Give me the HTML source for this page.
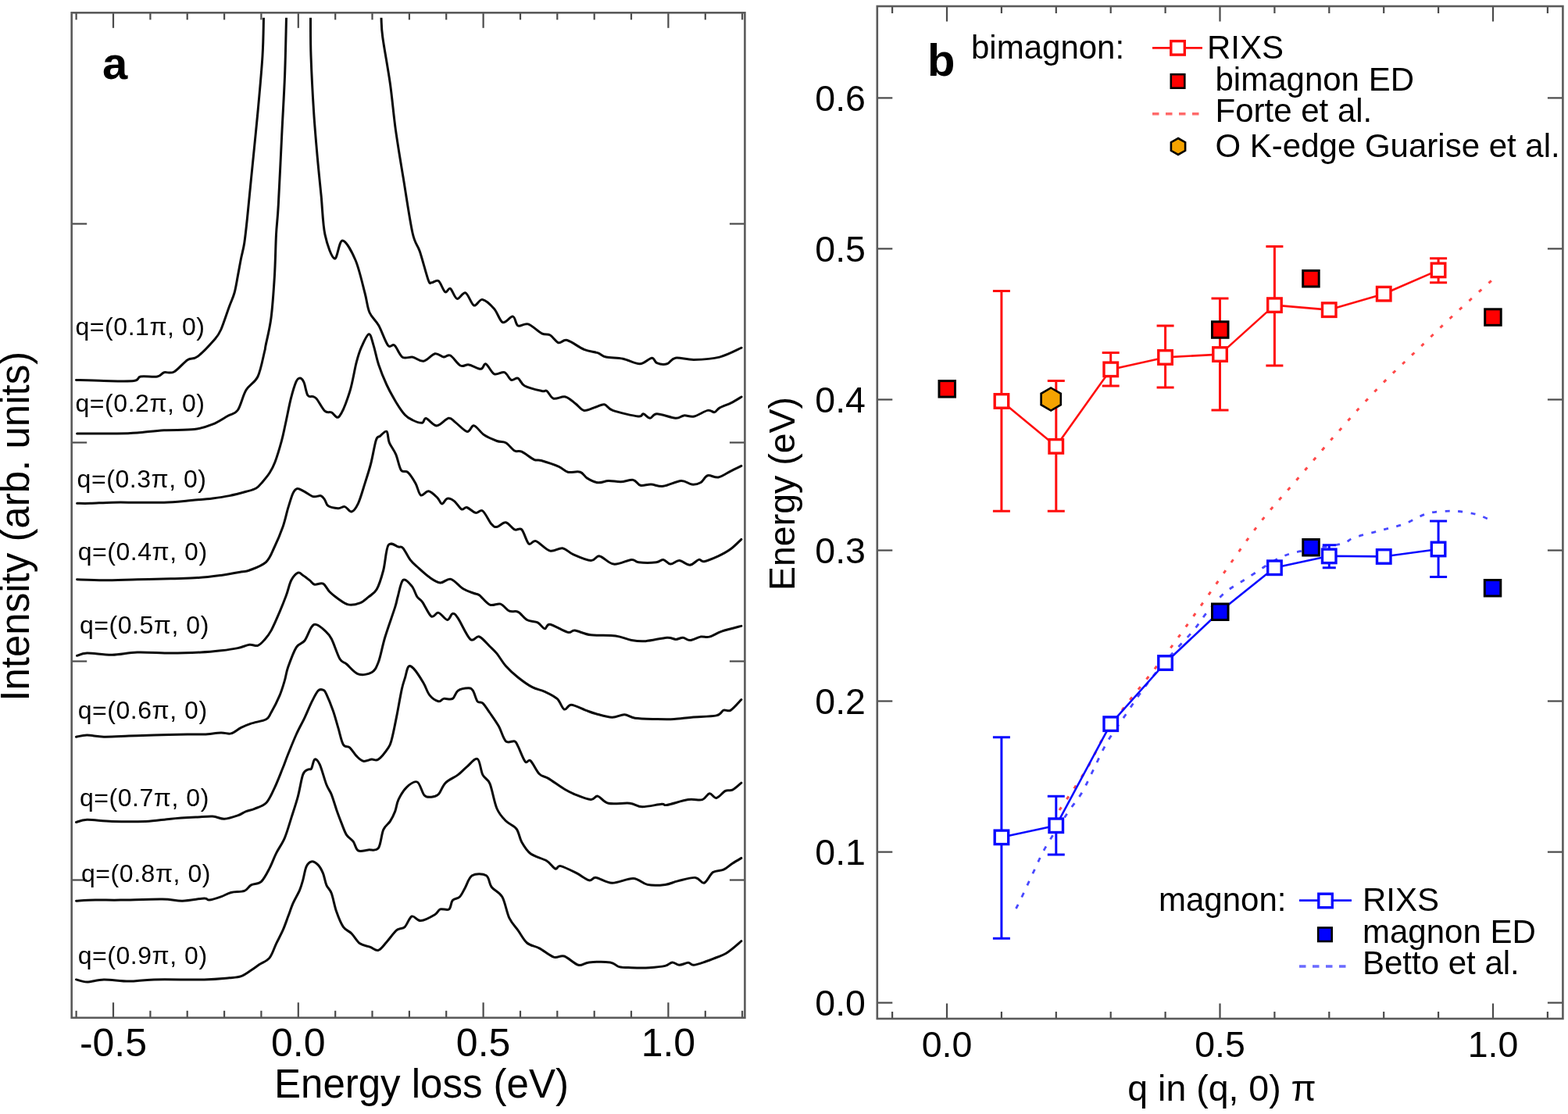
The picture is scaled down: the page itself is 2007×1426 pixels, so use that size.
<!DOCTYPE html>
<html><head><meta charset="utf-8"><title>Figure</title>
<style>html,body{margin:0;padding:0;background:#fff;} svg{display:block;}</style>
</head><body>
<svg width="2007" height="1426" viewBox="0 0 2007 1426" font-family='"Liberation Sans", Arial, Helvetica, sans-serif'>
<rect width="2007" height="1426" fill="#fff"/>
<line x1="97.6" y1="1302.8" x2="97.6" y2="1293.8" stroke="#4a4a4a" stroke-width="2.2"/>
<line x1="97.6" y1="16.3" x2="97.6" y2="25.3" stroke="#4a4a4a" stroke-width="2.2"/>
<line x1="145.0" y1="1302.8" x2="145.0" y2="1283.3" stroke="#4a4a4a" stroke-width="2.2"/>
<line x1="145.0" y1="16.3" x2="145.0" y2="35.8" stroke="#4a4a4a" stroke-width="2.2"/>
<line x1="192.4" y1="1302.8" x2="192.4" y2="1293.8" stroke="#4a4a4a" stroke-width="2.2"/>
<line x1="192.4" y1="16.3" x2="192.4" y2="25.3" stroke="#4a4a4a" stroke-width="2.2"/>
<line x1="239.7" y1="1302.8" x2="239.7" y2="1293.8" stroke="#4a4a4a" stroke-width="2.2"/>
<line x1="239.7" y1="16.3" x2="239.7" y2="25.3" stroke="#4a4a4a" stroke-width="2.2"/>
<line x1="287.1" y1="1302.8" x2="287.1" y2="1293.8" stroke="#4a4a4a" stroke-width="2.2"/>
<line x1="287.1" y1="16.3" x2="287.1" y2="25.3" stroke="#4a4a4a" stroke-width="2.2"/>
<line x1="334.4" y1="1302.8" x2="334.4" y2="1293.8" stroke="#4a4a4a" stroke-width="2.2"/>
<line x1="334.4" y1="16.3" x2="334.4" y2="25.3" stroke="#4a4a4a" stroke-width="2.2"/>
<line x1="381.8" y1="1302.8" x2="381.8" y2="1283.3" stroke="#4a4a4a" stroke-width="2.2"/>
<line x1="381.8" y1="16.3" x2="381.8" y2="35.8" stroke="#4a4a4a" stroke-width="2.2"/>
<line x1="429.2" y1="1302.8" x2="429.2" y2="1293.8" stroke="#4a4a4a" stroke-width="2.2"/>
<line x1="429.2" y1="16.3" x2="429.2" y2="25.3" stroke="#4a4a4a" stroke-width="2.2"/>
<line x1="476.5" y1="1302.8" x2="476.5" y2="1293.8" stroke="#4a4a4a" stroke-width="2.2"/>
<line x1="476.5" y1="16.3" x2="476.5" y2="25.3" stroke="#4a4a4a" stroke-width="2.2"/>
<line x1="523.9" y1="1302.8" x2="523.9" y2="1293.8" stroke="#4a4a4a" stroke-width="2.2"/>
<line x1="523.9" y1="16.3" x2="523.9" y2="25.3" stroke="#4a4a4a" stroke-width="2.2"/>
<line x1="571.2" y1="1302.8" x2="571.2" y2="1293.8" stroke="#4a4a4a" stroke-width="2.2"/>
<line x1="571.2" y1="16.3" x2="571.2" y2="25.3" stroke="#4a4a4a" stroke-width="2.2"/>
<line x1="618.6" y1="1302.8" x2="618.6" y2="1283.3" stroke="#4a4a4a" stroke-width="2.2"/>
<line x1="618.6" y1="16.3" x2="618.6" y2="35.8" stroke="#4a4a4a" stroke-width="2.2"/>
<line x1="666.0" y1="1302.8" x2="666.0" y2="1293.8" stroke="#4a4a4a" stroke-width="2.2"/>
<line x1="666.0" y1="16.3" x2="666.0" y2="25.3" stroke="#4a4a4a" stroke-width="2.2"/>
<line x1="713.3" y1="1302.8" x2="713.3" y2="1293.8" stroke="#4a4a4a" stroke-width="2.2"/>
<line x1="713.3" y1="16.3" x2="713.3" y2="25.3" stroke="#4a4a4a" stroke-width="2.2"/>
<line x1="760.7" y1="1302.8" x2="760.7" y2="1293.8" stroke="#4a4a4a" stroke-width="2.2"/>
<line x1="760.7" y1="16.3" x2="760.7" y2="25.3" stroke="#4a4a4a" stroke-width="2.2"/>
<line x1="808.0" y1="1302.8" x2="808.0" y2="1293.8" stroke="#4a4a4a" stroke-width="2.2"/>
<line x1="808.0" y1="16.3" x2="808.0" y2="25.3" stroke="#4a4a4a" stroke-width="2.2"/>
<line x1="855.4" y1="1302.8" x2="855.4" y2="1283.3" stroke="#4a4a4a" stroke-width="2.2"/>
<line x1="855.4" y1="16.3" x2="855.4" y2="35.8" stroke="#4a4a4a" stroke-width="2.2"/>
<line x1="902.8" y1="1302.8" x2="902.8" y2="1293.8" stroke="#4a4a4a" stroke-width="2.2"/>
<line x1="902.8" y1="16.3" x2="902.8" y2="25.3" stroke="#4a4a4a" stroke-width="2.2"/>
<line x1="950.1" y1="1302.8" x2="950.1" y2="1293.8" stroke="#4a4a4a" stroke-width="2.2"/>
<line x1="950.1" y1="16.3" x2="950.1" y2="25.3" stroke="#4a4a4a" stroke-width="2.2"/>
<line x1="91.7" y1="286.5" x2="111.2" y2="286.5" stroke="#4a4a4a" stroke-width="2.2"/>
<line x1="953.4" y1="286.5" x2="933.9" y2="286.5" stroke="#4a4a4a" stroke-width="2.2"/>
<line x1="91.7" y1="566.5" x2="111.2" y2="566.5" stroke="#4a4a4a" stroke-width="2.2"/>
<line x1="953.4" y1="566.5" x2="933.9" y2="566.5" stroke="#4a4a4a" stroke-width="2.2"/>
<line x1="91.7" y1="846.5" x2="111.2" y2="846.5" stroke="#4a4a4a" stroke-width="2.2"/>
<line x1="953.4" y1="846.5" x2="933.9" y2="846.5" stroke="#4a4a4a" stroke-width="2.2"/>
<line x1="91.7" y1="1126.5" x2="111.2" y2="1126.5" stroke="#4a4a4a" stroke-width="2.2"/>
<line x1="953.4" y1="1126.5" x2="933.9" y2="1126.5" stroke="#4a4a4a" stroke-width="2.2"/>
<rect x="91.7" y="16.3" width="861.7" height="1286.5" fill="none" stroke="#5a5a5a" stroke-width="2.6"/>
<text x="145.0" y="1352.3" font-size="50" text-anchor="middle" font-weight="normal" fill="#000" >-0.5</text>
<text x="381.8" y="1352.3" font-size="50" text-anchor="middle" font-weight="normal" fill="#000" >0.0</text>
<text x="618.6" y="1352.3" font-size="50" text-anchor="middle" font-weight="normal" fill="#000" >0.5</text>
<text x="855.4" y="1352.3" font-size="50" text-anchor="middle" font-weight="normal" fill="#000" >1.0</text>
<text x="539.5" y="1405.0" font-size="51" text-anchor="middle" font-weight="normal" fill="#000" >Energy loss (eV)</text>
<text transform="translate(36.5,673.8) rotate(-90)" font-size="51" text-anchor="middle">Intensity (arb. units)</text>
<text x="131.0" y="101.0" font-size="58" text-anchor="start" font-weight="bold" fill="#000" >a</text>
<defs><clipPath id="ca"><rect x="92" y="22.8" width="860" height="1279"/></clipPath></defs>
<g clip-path="url(#ca)">
<path d="M97.5,486.4 C103.4,486.6 120.6,487.3 132.9,487.5 C145.2,487.7 163.6,488.4 171.4,487.5 C179.2,486.6 175.0,482.9 180.0,482.0 C185.0,481.1 196.4,482.9 201.4,482.0 C206.4,481.1 206.4,477.8 210.0,476.8 C213.6,475.8 217.8,478.7 222.8,476.0 C227.8,473.3 235.0,464.0 240.0,460.7 C245.0,457.4 247.2,460.7 252.9,456.4 C258.6,452.1 269.3,440.7 274.3,435.0 C279.3,429.3 279.6,429.2 282.8,422.0 C286.0,414.8 290.7,399.8 293.6,392.0 C296.5,384.2 298.2,381.4 300.0,375.0 C301.8,368.6 302.9,360.9 304.3,353.6 C305.7,346.3 307.1,338.1 308.5,331.0 C309.9,323.9 311.5,319.4 312.8,310.7 C314.1,302.0 314.8,295.0 316.5,279.0 C318.2,263.0 320.6,237.3 322.9,214.6 C325.1,191.9 327.8,166.8 330.0,143.0 C332.2,119.2 334.8,91.5 336.0,71.5 C337.2,51.5 337.2,34.1 337.5,23.0 C337.8,11.9 337.8,8.0 337.8,5.0" fill="none" stroke="#0a0a0a" stroke-width="3.0" stroke-linejoin="round" stroke-linecap="round"/>
<path d="M487.5,5.0 C487.6,8.0 487.6,15.9 488.0,23.0 C488.4,30.1 487.9,33.7 489.8,47.7 C491.7,61.8 496.6,87.4 499.4,107.3 C502.2,127.2 503.7,147.0 506.5,166.9 C509.3,186.8 512.4,204.7 516.0,226.5 C519.6,248.3 524.5,282.1 528.0,298.0 C531.5,313.9 533.9,311.6 537.3,321.7 C540.7,331.8 545.7,351.8 548.2,358.5 C550.7,365.2 550.3,361.6 552.5,361.8 C554.7,362.0 558.3,357.6 561.2,359.6 C564.1,361.6 567.3,372.1 569.8,373.7 C572.3,375.3 573.9,367.9 576.4,369.4 C578.9,370.8 581.8,381.5 585.0,382.4 C588.2,383.3 592.3,373.4 595.9,374.8 C599.5,376.2 603.1,389.6 606.7,391.0 C610.3,392.4 613.2,382.7 617.5,383.4 C621.8,384.1 628.4,390.5 632.7,395.4 C637.0,400.3 639.5,411.1 643.5,412.7 C647.5,414.3 653.2,404.4 656.5,405.1 C659.8,405.8 659.8,415.4 663.0,417.0 C666.2,418.6 670.9,413.3 676.0,414.9 C681.1,416.5 688.7,424.4 693.4,426.8 C698.1,429.2 700.6,427.0 704.2,429.0 C707.8,431.0 711.4,437.6 715.0,438.7 C718.6,439.8 720.5,434.1 725.9,435.5 C731.3,436.9 741.1,444.7 747.6,447.4 C754.1,450.1 760.2,450.1 764.9,451.7 C769.6,453.3 770.3,455.7 775.7,457.0 C781.1,458.3 790.2,457.8 797.4,459.3 C804.6,460.8 812.9,466.0 819.0,465.8 C825.1,465.6 830.7,458.4 834.3,458.2 C837.9,458.0 837.5,463.4 840.8,464.7 C844.0,466.0 849.8,466.9 853.8,465.8 C857.8,464.7 858.8,459.1 864.6,458.2 C870.4,457.3 879.0,460.6 888.4,460.4 C897.8,460.2 910.9,459.6 921.0,457.1 C931.1,454.6 944.4,447.2 949.1,445.2" fill="none" stroke="#0a0a0a" stroke-width="3.0" stroke-linejoin="round" stroke-linecap="round"/>
<path d="M98.6,555.0 C107.2,555.0 137.2,555.2 150.0,555.0 C162.8,554.8 165.7,554.7 175.7,554.0 C185.7,553.3 197.8,551.4 210.0,550.7 C222.2,550.0 238.3,550.9 248.6,549.6 C258.9,548.4 264.9,546.1 272.0,543.2 C279.1,540.4 286.0,535.5 291.4,532.5 C296.8,529.5 300.4,530.5 304.3,525.0 C308.2,519.5 310.7,506.5 315.0,499.3 C319.3,492.1 326.1,490.2 330.0,482.0 C333.9,473.8 336.9,456.7 338.6,450.0 C340.3,443.3 338.7,449.2 340.1,442.0 C341.5,434.8 345.1,421.7 347.0,407.0 C348.9,392.3 350.3,371.4 351.4,353.6 C352.5,335.8 352.7,315.2 353.5,300.0 C354.3,284.8 355.1,284.5 356.3,262.3 C357.6,240.1 359.6,194.8 361.0,167.0 C362.4,139.2 363.7,119.4 364.6,95.4 C365.5,71.4 366.1,38.1 366.5,23.0 C366.9,7.9 366.9,8.0 367.0,5.0" fill="none" stroke="#0a0a0a" stroke-width="3.0" stroke-linejoin="round" stroke-linecap="round"/>
<path d="M397.4,5.0 C397.4,8.0 397.4,11.9 397.5,23.0 C397.6,34.1 397.3,51.5 398.0,71.5 C398.7,91.5 400.2,121.1 401.6,143.0 C403.0,164.9 404.8,184.8 406.4,202.7 C408.0,220.6 409.5,234.1 411.1,250.4 C412.7,266.7 413.1,287.0 416.0,300.4 C418.9,313.8 424.5,329.7 428.2,331.0 C431.9,332.3 433.9,307.7 438.4,308.0 C442.9,308.3 450.2,321.8 455.0,333.0 C459.8,344.2 464.0,363.8 467.0,375.0 C470.0,386.2 470.0,393.0 473.0,400.0 C476.0,407.0 480.9,409.8 484.8,416.8 C488.7,423.8 493.2,437.9 496.6,442.1 C500.0,446.3 501.9,439.6 505.0,442.1 C508.1,444.6 511.2,454.7 515.1,457.2 C519.0,459.7 524.1,456.3 528.6,457.2 C533.1,458.1 537.3,463.0 542.0,462.3 C546.7,461.6 552.5,453.7 556.8,452.8 C561.1,451.9 564.4,456.7 567.7,457.1 C571.0,457.5 572.8,453.2 576.4,455.0 C580.0,456.8 585.4,466.0 589.4,468.0 C593.4,470.0 595.9,466.2 600.2,466.9 C604.5,467.6 611.8,472.5 615.4,472.3 C619.0,472.1 619.0,464.7 621.9,465.8 C624.8,466.9 628.7,477.0 632.7,478.8 C636.7,480.6 642.1,475.3 645.7,476.6 C649.3,477.9 651.5,485.1 654.4,486.4 C657.3,487.7 660.1,482.9 663.0,484.2 C665.9,485.5 666.6,491.3 671.7,494.0 C676.8,496.7 688.7,499.4 693.4,500.5 C698.1,501.6 697.4,498.9 699.9,500.5 C702.4,502.1 704.6,508.9 708.6,510.2 C712.6,511.4 719.0,506.9 723.7,508.0 C728.4,509.1 732.7,513.8 736.7,516.7 C740.7,519.6 743.3,524.7 747.6,525.4 C751.9,526.1 758.4,522.3 762.7,521.0 C767.0,519.7 770.0,517.1 773.6,517.8 C777.2,518.5 777.2,522.9 784.4,525.4 C791.6,527.9 810.4,532.3 816.9,533.0 C823.4,533.7 820.9,529.3 823.4,529.7 C825.9,530.1 829.2,535.2 832.1,535.2 C835.0,535.2 835.4,529.7 840.8,529.7 C846.2,529.7 858.8,534.8 864.6,535.2 C870.4,535.6 871.4,532.3 875.4,531.9 C879.4,531.5 883.3,534.1 888.4,533.0 C893.5,531.9 901.4,526.3 905.8,525.4 C910.1,524.5 912.0,528.1 914.5,527.6 C917.0,527.1 917.4,524.1 921.0,522.1 C924.6,520.1 931.4,518.0 936.1,515.6 C940.8,513.2 946.9,509.3 949.1,508.0" fill="none" stroke="#0a0a0a" stroke-width="3.0" stroke-linejoin="round" stroke-linecap="round"/>
<path d="M98.6,644.3 C101.4,644.3 108.2,644.5 115.7,644.3 C123.2,644.1 133.6,643.4 143.6,643.2 C153.6,643.0 164.6,643.2 175.7,643.2 C186.8,643.2 199.3,643.6 210.0,643.2 C220.7,642.8 229.7,641.9 240.0,641.0 C250.3,640.1 263.2,639.0 272.1,637.9 C281.0,636.8 286.5,636.0 293.6,634.6 C300.8,633.2 309.3,630.9 315.0,629.3 C320.7,627.7 324.2,627.1 327.8,625.0 C331.4,622.9 333.5,619.7 336.4,616.4 C339.3,613.1 342.5,609.4 345.1,605.3 C347.7,601.2 349.4,598.5 351.9,591.8 C354.4,585.1 358.1,573.0 360.3,564.9 C362.5,556.8 363.3,552.0 365.3,543.0 C367.3,534.0 369.9,520.1 372.1,511.1 C374.4,502.1 376.9,493.7 378.8,489.2 C380.8,484.7 382.1,484.1 383.8,484.1 C385.5,484.1 387.2,485.6 388.9,489.2 C390.6,492.8 391.9,502.9 393.9,506.0 C395.9,509.1 398.7,506.8 400.7,507.7 C402.7,508.6 403.2,508.0 405.7,511.1 C408.2,514.2 412.7,523.4 415.8,526.2 C418.9,529.0 421.1,526.8 424.2,527.9 C427.3,529.0 430.4,537.4 434.3,532.9 C438.2,528.4 444.2,512.5 447.8,501.0 C451.4,489.5 453.7,473.4 456.2,463.9 C458.7,454.3 460.2,449.7 462.9,443.7 C465.6,437.7 469.7,428.1 472.2,427.8 C474.7,427.5 476.0,435.5 478.1,442.1 C480.2,448.7 482.0,458.9 484.8,467.3 C487.6,475.7 491.2,484.6 494.9,492.5 C498.5,500.4 502.8,507.9 506.7,514.4 C510.6,520.9 514.9,527.3 518.5,531.2 C522.1,535.1 525.0,536.3 528.6,538.0 C532.2,539.7 537.5,541.7 540.3,541.3 C543.1,540.9 542.3,534.9 545.4,535.5 C548.5,536.1 554.2,544.9 559.0,544.9 C563.8,544.9 570.2,535.9 574.2,535.2 C578.2,534.5 578.9,537.7 582.9,540.6 C586.9,543.5 594.0,551.8 598.0,552.5 C602.0,553.2 603.1,544.2 606.7,544.9 C610.3,545.6 614.8,553.5 619.7,556.8 C624.6,560.1 631.4,562.8 636.0,564.5 C640.6,566.2 643.6,564.7 647.4,566.8 C651.2,568.9 655.3,575.1 658.7,577.0 C662.1,578.9 663.6,576.2 667.8,578.1 C671.9,580.0 679.5,586.4 683.6,588.3 C687.8,590.2 687.4,588.0 692.7,589.5 C698.0,591.0 709.7,594.9 715.4,597.4 C721.1,599.9 722.2,603.1 726.7,604.2 C731.2,605.3 738.5,602.9 742.6,604.2 C746.8,605.5 747.8,609.8 751.6,612.1 C755.4,614.4 760.7,617.2 765.2,617.8 C769.7,618.4 773.9,615.7 778.8,615.5 C783.7,615.3 789.4,616.9 794.7,616.7 C800.0,616.5 806.4,613.6 810.6,614.4 C814.8,615.1 815.9,620.2 819.7,621.2 C823.5,622.2 828.4,619.9 833.3,620.1 C838.2,620.3 842.7,623.1 849.1,622.3 C855.5,621.5 865.8,615.9 871.8,615.5 C877.8,615.1 881.2,619.7 885.4,620.1 C889.5,620.5 893.3,619.7 896.7,617.8 C900.1,615.9 902.0,609.8 905.8,608.7 C909.6,607.6 914.5,611.9 919.4,611.0 C924.3,610.1 930.4,605.6 935.3,603.1 C940.2,600.6 946.6,597.4 948.9,596.3" fill="none" stroke="#0a0a0a" stroke-width="3.0" stroke-linejoin="round" stroke-linecap="round"/>
<path d="M98.6,741.8 C104.3,742.0 120.1,742.8 132.9,742.8 C145.8,742.8 161.4,742.1 175.7,741.8 C190.0,741.4 205.7,741.1 218.6,740.7 C231.5,740.3 242.2,740.3 252.9,739.6 C263.6,738.9 273.5,737.6 282.8,736.4 C292.1,735.1 302.5,733.2 308.6,732.1 C314.7,731.0 314.0,732.1 319.3,730.0 C324.6,727.9 335.4,724.3 340.7,719.3 C346.0,714.3 347.8,707.5 351.4,700.0 C355.0,692.5 359.2,682.5 362.1,674.3 C365.0,666.1 366.5,657.9 368.6,650.7 C370.8,643.6 373.0,635.6 375.0,631.4 C377.0,627.2 378.2,625.9 380.5,625.5 C382.8,625.1 385.5,627.1 388.9,628.8 C392.3,630.5 397.0,634.6 400.7,635.6 C404.4,636.6 408.3,634.0 410.8,634.7 C413.3,635.4 414.3,637.9 415.8,640.0 C417.3,642.1 417.2,645.7 420.0,647.5 C422.8,649.3 429.2,650.5 432.8,650.7 C436.4,650.9 438.5,647.9 441.4,648.6 C444.3,649.3 447.1,655.7 450.0,655.0 C452.9,654.3 455.6,650.4 458.5,644.3 C461.4,638.2 464.4,627.1 467.1,618.6 C469.8,610.1 472.3,602.7 474.7,593.5 C477.1,584.3 479.4,569.1 481.4,563.2 C483.4,557.3 484.2,560.0 486.5,558.2 C488.8,556.4 492.9,550.9 494.9,552.3 C496.9,553.7 496.3,561.7 498.3,566.6 C500.3,571.5 504.2,575.8 506.7,581.7 C509.2,587.6 510.9,598.1 513.4,601.9 C515.9,605.7 518.7,601.6 521.8,604.4 C524.9,607.2 529.1,613.8 531.9,618.7 C534.7,623.6 535.8,632.2 538.6,633.9 C541.4,635.6 545.1,628.2 548.7,628.8 C552.3,629.4 557.2,634.6 560.0,637.3 C562.8,640.0 563.6,644.9 565.7,645.0 C567.8,645.1 569.9,638.8 572.5,638.2 C575.1,637.6 578.6,639.3 581.6,641.6 C584.6,643.9 588.1,650.5 590.7,651.8 C593.4,653.1 594.5,648.7 597.5,649.5 C600.5,650.3 605.4,655.6 608.8,656.4 C612.2,657.2 614.5,651.6 617.9,654.1 C621.3,656.6 626.2,667.7 629.2,671.1 C632.2,674.5 633.0,674.9 636.0,674.5 C639.0,674.1 643.6,668.2 647.4,668.8 C651.2,669.4 655.3,676.4 658.7,677.9 C662.1,679.4 664.8,674.9 667.8,677.9 C670.8,680.9 673.8,693.5 676.8,696.0 C679.8,698.5 681.4,691.1 685.9,692.6 C690.4,694.1 698.3,703.6 704.0,705.1 C709.7,706.6 715.0,701.0 719.9,701.7 C724.8,702.5 727.5,707.0 733.5,709.6 C739.5,712.2 750.5,717.2 756.2,717.6 C761.9,718.0 762.6,711.1 767.5,711.9 C772.4,712.6 778.8,721.4 785.6,722.1 C792.4,722.9 803.0,716.8 808.3,716.4 C813.6,716.0 812.1,719.2 817.4,719.8 C822.7,720.4 834.7,720.4 840.0,719.8 C845.3,719.2 846.1,716.0 849.1,716.4 C852.1,716.8 854.8,721.9 858.2,722.1 C861.6,722.3 865.4,717.4 869.5,717.6 C873.6,717.8 878.9,723.4 883.1,723.2 C887.3,723.0 891.5,717.1 894.5,716.4 C897.5,715.6 897.1,719.5 901.3,718.7 C905.4,718.0 913.7,714.5 919.4,711.9 C925.1,709.2 930.4,706.4 935.3,702.8 C940.2,699.2 946.6,692.5 948.9,690.4" fill="none" stroke="#0a0a0a" stroke-width="3.0" stroke-linejoin="round" stroke-linecap="round"/>
<path d="M98.6,839.3 C100.7,838.8 103.9,836.2 111.4,836.0 C118.9,835.8 132.9,838.4 143.6,838.2 C154.3,838.0 163.2,835.4 175.7,835.0 C188.2,834.6 205.0,836.0 218.6,836.0 C232.2,836.0 246.4,835.5 257.1,835.0 C267.8,834.5 274.9,833.7 282.8,832.8 C290.7,831.9 298.2,830.9 304.3,829.6 C310.4,828.4 315.0,825.8 319.3,825.3 C323.6,824.8 326.8,827.5 330.0,826.4 C333.2,825.3 335.8,822.1 338.6,818.9 C341.5,815.7 343.9,813.0 347.1,807.1 C350.3,801.2 354.6,791.1 357.8,783.6 C361.0,776.1 363.9,768.9 366.4,762.1 C368.9,755.3 370.3,747.6 372.8,742.8 C375.3,738.0 378.9,734.3 381.4,733.2 C383.9,732.1 385.3,734.8 387.8,736.4 C390.3,738.0 393.9,740.8 396.4,742.8 C398.9,744.8 399.9,747.5 402.8,748.2 C405.7,748.9 410.3,745.5 413.5,747.1 C416.7,748.7 418.9,754.6 422.1,757.8 C425.3,761.0 428.9,763.7 432.8,766.4 C436.7,769.1 441.1,773.0 445.7,773.9 C450.3,774.8 456.4,773.4 460.7,771.8 C465.0,770.2 467.8,767.2 471.4,764.3 C475.0,761.4 478.9,760.3 482.1,754.6 C485.3,748.9 488.2,739.5 490.7,730.0 C493.2,720.5 493.9,702.8 497.1,697.8 C500.3,692.8 506.9,699.4 510.0,700.0 C513.1,700.6 513.4,699.0 515.9,701.7 C518.4,704.4 521.9,712.4 524.9,716.4 C527.9,720.4 529.8,721.7 534.0,725.5 C538.2,729.3 545.0,735.7 549.9,739.1 C554.8,742.5 559.0,745.5 563.5,745.9 C568.0,746.3 572.2,740.1 577.1,741.4 C582.0,742.7 588.1,750.8 593.0,753.8 C597.9,756.8 603.2,758.2 606.6,759.5 C610.0,760.8 610.0,759.3 613.4,761.8 C616.8,764.2 622.5,772.3 627.0,774.2 C631.5,776.1 636.5,771.8 640.6,773.1 C644.8,774.4 648.1,780.5 651.9,782.2 C655.7,783.9 659.4,781.4 663.2,783.3 C667.0,785.2 670.4,791.2 674.6,793.5 C678.8,795.8 684.4,795.0 688.2,796.9 C692.0,798.8 694.6,804.4 697.2,804.8 C699.8,805.2 699.1,798.4 704.0,799.2 C708.9,800.0 721.4,808.1 726.7,809.4 C732.0,810.7 730.9,806.5 735.8,807.1 C740.7,807.7 747.5,811.7 756.2,812.8 C764.9,813.9 779.2,812.8 787.9,813.9 C796.6,815.0 801.9,818.5 808.3,819.6 C814.7,820.7 818.9,821.3 826.5,820.7 C834.1,820.1 847.3,816.6 853.7,816.2 C860.1,815.8 861.6,818.4 865.0,818.4 C868.4,818.4 871.1,816.0 874.1,816.2 C877.1,816.4 879.3,819.8 883.1,819.6 C886.9,819.4 892.5,815.9 896.7,815.1 C900.9,814.4 903.6,816.2 908.1,815.1 C912.6,814.0 917.1,810.5 923.9,808.2 C930.7,805.9 944.7,802.5 948.9,801.4" fill="none" stroke="#0a0a0a" stroke-width="3.0" stroke-linejoin="round" stroke-linecap="round"/>
<path d="M97.5,943.2 C99.8,942.9 105.5,941.1 111.4,941.1 C117.3,941.1 124.0,943.0 132.9,943.2 C141.8,943.4 154.3,942.5 165.0,942.1 C175.7,941.8 184.6,941.5 197.1,941.1 C209.6,940.8 229.3,940.2 240.0,940.0 C250.7,939.8 254.3,940.4 261.4,940.0 C268.5,939.6 277.1,938.1 282.8,937.9 C288.5,937.7 291.4,940.0 295.7,938.9 C300.0,937.8 304.3,933.5 308.6,931.4 C312.9,929.3 316.0,927.9 321.4,926.1 C326.8,924.3 336.4,923.0 340.7,920.7 C345.0,918.4 344.2,917.1 347.1,912.1 C350.0,907.1 354.9,897.5 357.8,890.7 C360.7,883.9 362.5,877.5 364.3,871.4 C366.1,865.3 366.1,861.4 368.6,854.3 C371.1,847.2 375.7,834.3 379.3,828.6 C382.9,822.9 386.8,824.3 390.0,820.0 C393.2,815.7 396.1,806.2 398.6,802.8 C401.1,799.4 402.1,798.9 405.0,799.6 C407.9,800.3 412.5,804.1 415.7,807.1 C418.9,810.1 421.1,811.7 424.3,817.8 C427.5,823.9 431.8,838.2 435.0,843.6 C438.2,849.0 439.6,846.8 443.5,850.0 C447.4,853.2 453.1,861.0 458.5,862.8 C463.9,864.6 471.4,863.2 475.7,860.7 C480.0,858.2 481.4,855.3 484.3,847.8 C487.2,840.3 489.2,827.5 492.8,815.7 C496.4,803.9 503.0,785.7 505.7,777.1 C508.4,768.5 507.4,769.8 509.1,764.0 C510.8,758.2 512.9,744.8 515.9,742.5 C518.9,740.2 524.2,746.8 527.2,750.4 C530.2,754.0 531.7,760.6 534.0,764.0 C536.3,767.4 537.8,766.6 540.8,770.8 C543.8,775.0 548.7,786.7 552.1,789.0 C555.5,791.3 557.8,783.6 561.2,784.4 C564.6,785.1 569.5,793.3 572.5,793.5 C575.5,793.7 577.0,786.0 579.3,785.6 C581.6,785.2 582.3,785.7 586.1,791.2 C589.9,796.7 597.5,814.4 602.0,818.4 C606.5,822.4 609.2,813.5 613.4,815.0 C617.6,816.5 623.2,823.9 627.0,827.5 C630.8,831.1 632.6,832.4 636.0,836.6 C639.4,840.8 642.9,847.4 647.4,852.5 C651.9,857.6 657.5,862.7 663.2,867.2 C668.9,871.7 675.7,876.7 681.4,879.7 C687.1,882.7 691.9,882.8 697.2,885.3 C702.5,887.8 708.9,890.6 713.1,894.4 C717.3,898.2 719.2,906.7 722.2,908.0 C725.2,909.3 726.7,902.1 731.2,902.3 C735.7,902.5 744.1,907.2 749.4,909.1 C754.7,911.0 757.3,912.2 763.0,913.7 C768.7,915.2 777.4,918.0 783.4,918.2 C789.4,918.4 794.4,914.6 799.3,914.8 C804.2,915.0 806.0,918.3 812.8,919.3 C819.6,920.2 831.7,920.3 840.0,920.5 C848.3,920.7 855.1,920.9 862.7,920.5 C870.3,920.1 876.3,919.0 885.4,918.2 C894.5,917.4 910.3,917.4 917.1,915.9 C923.9,914.4 923.2,910.2 926.2,909.1 C929.2,908.0 931.5,911.4 935.3,909.1 C939.1,906.8 946.6,897.8 948.9,895.5" fill="none" stroke="#0a0a0a" stroke-width="3.0" stroke-linejoin="round" stroke-linecap="round"/>
<path d="M97.5,1052.5 C99.8,1052.0 103.7,1049.5 111.4,1049.3 C119.1,1049.1 131.1,1051.1 143.6,1051.4 C156.1,1051.8 173.9,1051.9 186.4,1051.4 C198.9,1050.9 207.9,1049.1 218.6,1048.2 C229.3,1047.3 241.8,1046.6 250.7,1046.1 C259.6,1045.6 266.0,1044.7 272.1,1045.0 C278.2,1045.3 281.7,1048.4 287.1,1048.2 C292.5,1048.0 299.7,1045.5 304.3,1043.9 C308.9,1042.3 311.4,1040.0 315.0,1038.6 C318.6,1037.2 321.4,1037.1 325.7,1035.3 C330.0,1033.5 336.4,1032.2 340.7,1027.8 C345.0,1023.3 347.8,1016.1 351.4,1008.6 C355.0,1001.1 359.2,989.9 362.1,982.8 C365.0,975.6 365.7,972.8 368.6,965.7 C371.5,958.6 375.7,947.9 379.3,940.0 C382.9,932.1 386.8,925.4 390.0,918.6 C393.2,911.8 395.8,905.0 398.6,899.3 C401.5,893.6 404.6,887.0 407.1,884.3 C409.6,881.6 411.7,882.5 413.5,883.2 C415.3,883.9 415.7,884.1 417.8,888.6 C419.9,893.1 423.9,902.9 426.4,910.0 C428.9,917.1 430.6,924.2 432.8,931.4 C435.0,938.5 436.8,948.6 439.3,952.9 C441.8,957.2 445.0,954.6 447.8,957.1 C450.6,959.6 453.5,965.0 456.4,967.9 C459.3,970.8 461.8,973.6 465.0,974.3 C468.2,975.0 472.5,972.5 475.7,972.1 C478.9,971.7 480.7,974.6 484.3,972.1 C487.9,969.6 494.2,961.4 497.1,957.1 C500.0,952.8 499.6,953.2 501.4,946.4 C503.2,939.6 505.7,927.1 507.8,916.4 C509.9,905.7 512.5,890.3 514.3,882.1 C516.1,873.9 517.2,871.9 518.6,867.1 C520.0,862.4 520.9,855.5 522.7,853.6 C524.5,851.7 526.3,852.5 529.5,855.9 C532.7,859.3 538.5,868.3 541.9,874.0 C545.3,879.7 546.7,885.9 549.9,889.9 C553.1,893.9 558.2,897.0 561.2,897.8 C564.2,898.5 565.0,895.0 568.0,894.4 C571.0,893.8 576.3,896.1 579.3,894.4 C582.3,892.7 582.7,886.5 586.1,884.2 C589.5,881.9 596.6,880.8 599.8,880.8 C603.0,880.8 603.5,881.4 605.4,884.2 C607.3,887.0 609.0,895.1 611.1,897.8 C613.2,900.4 615.2,897.6 617.9,900.1 C620.5,902.6 623.6,907.6 627.0,912.5 C630.4,917.4 634.9,923.5 638.3,929.5 C641.7,935.5 644.0,945.6 647.4,948.8 C650.8,952.0 656.1,947.7 658.7,948.8 C661.3,949.9 660.9,951.2 663.2,955.6 C665.5,960.0 669.6,971.9 672.3,974.9 C674.9,977.9 676.1,971.1 679.1,973.8 C682.1,976.4 686.6,987.0 690.4,990.8 C694.2,994.6 696.5,993.2 701.8,996.4 C707.1,999.6 716.5,1006.6 722.2,1010.0 C727.9,1013.4 730.1,1014.5 735.8,1016.8 C741.5,1019.1 751.3,1023.2 756.2,1023.6 C761.1,1024.0 761.4,1018.3 765.2,1019.1 C769.0,1019.9 772.0,1026.7 778.8,1028.2 C785.6,1029.7 798.8,1027.5 806.0,1028.2 C813.2,1029.0 815.1,1032.5 821.9,1032.7 C828.7,1032.9 841.6,1029.7 846.9,1029.3 C852.2,1028.9 848.0,1031.4 853.7,1030.4 C859.4,1029.5 873.4,1024.7 880.9,1023.6 C888.4,1022.5 894.5,1024.9 899.0,1023.6 C903.5,1022.3 905.1,1016.1 908.1,1015.7 C911.1,1015.3 913.7,1022.0 917.1,1021.4 C920.5,1020.8 925.1,1014.0 928.5,1012.3 C931.9,1010.6 934.1,1012.9 937.5,1011.2 C940.9,1009.5 947.0,1003.6 948.9,1002.1" fill="none" stroke="#0a0a0a" stroke-width="3.0" stroke-linejoin="round" stroke-linecap="round"/>
<path d="M97.5,1153.2 C101.6,1153.0 112.6,1152.3 122.1,1152.1 C131.6,1151.9 140.0,1152.3 154.3,1152.1 C168.6,1151.9 194.6,1150.9 207.8,1151.1 C221.0,1151.3 224.7,1153.4 233.6,1153.2 C242.5,1153.0 255.7,1150.2 261.4,1150.0 C267.1,1149.8 264.2,1152.4 267.8,1152.1 C271.4,1151.8 278.2,1149.5 282.8,1147.9 C287.4,1146.3 290.7,1143.8 295.7,1142.5 C300.7,1141.2 308.5,1142.0 312.8,1140.4 C317.1,1138.8 317.8,1134.9 321.4,1132.9 C325.0,1130.9 330.4,1132.2 334.3,1128.6 C338.2,1125.0 341.8,1117.5 345.0,1111.4 C348.2,1105.3 350.4,1098.5 353.6,1092.1 C356.8,1085.7 361.1,1080.3 364.3,1072.8 C367.5,1065.3 370.0,1056.0 372.8,1047.1 C375.6,1038.2 378.9,1028.6 381.4,1019.3 C383.9,1010.0 385.6,997.1 387.8,991.4 C390.0,985.7 392.5,986.2 394.3,985.0 C396.1,983.8 397.2,986.0 398.6,983.9 C400.0,981.8 401.0,973.0 402.8,972.1 C404.6,971.2 406.8,973.2 409.3,978.6 C411.8,984.0 415.3,997.9 417.8,1004.3 C420.3,1010.7 422.2,1011.8 424.3,1017.1 C426.4,1022.5 428.6,1030.3 430.7,1036.4 C432.8,1042.5 435.0,1048.2 437.1,1053.6 C439.2,1059.0 441.0,1064.7 443.5,1068.6 C446.0,1072.5 449.6,1073.7 452.1,1077.1 C454.6,1080.5 455.3,1087.1 458.5,1088.9 C461.7,1090.7 467.1,1088.4 471.4,1087.9 C475.7,1087.4 481.1,1090.0 484.3,1085.7 C487.5,1081.4 488.2,1067.8 490.7,1062.1 C493.2,1056.4 496.8,1055.3 499.3,1051.4 C501.8,1047.5 503.9,1043.2 505.7,1038.6 C507.5,1034.0 507.6,1028.7 510.0,1023.6 C512.5,1018.5 516.4,1011.6 520.4,1007.8 C524.4,1004.0 530.2,999.3 534.0,1001.0 C537.8,1002.7 540.1,1014.8 543.1,1018.0 C546.1,1021.2 549.1,1020.4 552.1,1020.2 C555.1,1020.0 558.2,1019.8 561.2,1016.8 C564.2,1013.8 566.1,1006.2 570.3,1002.1 C574.4,998.0 581.6,995.3 586.1,991.9 C590.6,988.5 593.3,985.1 597.5,981.7 C601.7,978.3 607.7,969.8 611.1,971.5 C614.5,973.2 615.2,986.6 617.9,991.9 C620.5,997.2 624.0,996.0 627.0,1003.2 C630.0,1010.4 632.6,1027.1 636.0,1035.0 C639.4,1042.9 643.2,1046.5 647.4,1050.8 C651.6,1055.1 657.6,1056.5 661.0,1061.0 C664.4,1065.5 664.8,1072.7 667.8,1078.0 C670.8,1083.3 673.8,1088.8 679.1,1092.8 C684.4,1096.8 694.2,1098.6 699.5,1101.8 C704.8,1105.0 707.8,1110.9 710.8,1112.0 C713.8,1113.1 713.1,1107.6 717.6,1108.6 C722.1,1109.5 732.0,1114.7 738.0,1117.7 C744.0,1120.7 749.7,1125.8 753.9,1126.8 C758.1,1127.8 758.1,1122.8 763.0,1123.4 C767.9,1124.0 775.5,1130.0 783.4,1130.2 C791.3,1130.4 803.0,1124.1 810.6,1124.5 C818.2,1124.9 821.9,1131.1 828.7,1132.4 C835.5,1133.7 845.0,1133.2 851.4,1132.4 C857.8,1131.7 860.9,1129.4 867.3,1127.9 C873.7,1126.4 884.2,1123.0 889.9,1123.4 C895.6,1123.8 897.5,1131.3 901.3,1130.2 C905.1,1129.1 908.5,1119.4 912.6,1116.6 C916.8,1113.8 922.1,1115.1 926.2,1113.2 C930.4,1111.3 933.7,1107.7 937.5,1105.2 C941.3,1102.7 947.0,1099.5 948.9,1098.4" fill="none" stroke="#0a0a0a" stroke-width="3.0" stroke-linejoin="round" stroke-linecap="round"/>
<path d="M97.5,1253.9 C99.8,1254.4 105.5,1257.1 111.4,1257.1 C117.3,1257.1 124.0,1254.1 132.9,1253.9 C141.8,1253.7 154.3,1256.1 165.0,1256.1 C175.7,1256.1 181.0,1254.3 197.1,1253.9 C213.2,1253.5 245.3,1254.2 261.4,1253.9 C277.5,1253.6 285.7,1252.5 293.6,1251.8 C301.5,1251.1 304.0,1251.2 308.6,1249.6 C313.2,1248.0 317.5,1244.6 321.4,1242.1 C325.3,1239.6 328.2,1237.3 332.1,1234.6 C336.0,1231.9 341.4,1230.6 345.0,1226.1 C348.6,1221.6 350.8,1213.7 353.6,1207.8 C356.5,1201.9 359.6,1196.4 362.1,1190.7 C364.6,1185.0 366.5,1179.3 368.6,1173.6 C370.8,1167.9 372.5,1162.1 375.0,1156.4 C377.5,1150.7 381.5,1144.3 383.6,1139.3 C385.7,1134.3 386.4,1131.4 387.8,1126.4 C389.2,1121.4 390.3,1113.2 392.1,1109.3 C393.9,1105.4 396.1,1103.3 398.6,1102.9 C401.1,1102.5 404.6,1104.6 407.1,1107.1 C409.6,1109.6 411.7,1113.6 413.5,1117.9 C415.3,1122.2 416.0,1128.6 417.8,1132.9 C419.6,1137.2 422.2,1137.9 424.3,1143.6 C426.4,1149.3 428.2,1160.0 430.7,1167.1 C433.2,1174.2 436.1,1181.8 439.3,1186.4 C442.5,1191.1 446.4,1191.4 450.0,1195.0 C453.6,1198.6 456.8,1205.0 460.7,1207.8 C464.6,1210.6 469.6,1210.7 473.5,1212.1 C477.4,1213.5 480.7,1217.5 484.3,1216.4 C487.9,1215.3 491.1,1210.0 495.0,1205.7 C498.9,1201.4 503.9,1193.9 507.8,1190.7 C511.7,1187.5 514.9,1189.5 518.1,1186.6 C521.3,1183.6 523.8,1174.3 527.2,1173.0 C530.6,1171.7 533.6,1179.0 538.5,1178.6 C543.4,1178.2 552.5,1173.2 556.7,1170.7 C560.9,1168.2 560.5,1165.0 563.5,1163.9 C566.5,1162.8 572.2,1165.8 574.8,1163.9 C577.4,1162.0 577.0,1155.2 579.3,1152.5 C581.6,1149.8 585.8,1150.6 588.4,1148.0 C591.0,1145.4 592.6,1141.2 595.2,1136.7 C597.9,1132.2 599.8,1123.5 604.3,1120.8 C608.8,1118.1 618.2,1118.3 622.4,1120.8 C626.5,1123.2 625.8,1131.0 629.2,1135.5 C632.6,1140.0 639.0,1141.4 642.8,1148.0 C646.6,1154.6 648.5,1168.0 651.9,1175.2 C655.3,1182.4 659.4,1185.8 663.2,1191.1 C667.0,1196.4 670.1,1203.2 674.6,1207.0 C679.1,1210.8 684.7,1210.8 690.4,1213.8 C696.1,1216.8 703.3,1223.4 708.6,1225.1 C713.9,1226.8 716.9,1222.3 722.2,1224.0 C727.5,1225.7 735.0,1234.0 740.3,1235.3 C745.6,1236.6 747.1,1232.5 753.9,1231.9 C760.7,1231.3 774.7,1231.0 781.1,1231.9 C787.5,1232.9 788.0,1236.5 792.5,1237.6 C797.0,1238.7 801.9,1238.5 808.3,1238.7 C814.7,1238.9 823.8,1239.1 831.0,1238.7 C838.2,1238.3 846.5,1237.5 851.4,1236.4 C856.3,1235.3 857.5,1232.1 860.5,1231.9 C863.5,1231.7 866.1,1235.2 869.5,1235.3 C872.9,1235.4 877.9,1232.3 880.9,1232.3 C883.9,1232.3 883.9,1235.5 887.7,1235.3 C891.5,1235.0 899.4,1232.1 903.5,1230.8 C907.6,1229.5 908.1,1229.3 912.6,1227.4 C917.1,1225.5 924.7,1223.2 930.7,1219.4 C936.8,1215.6 945.9,1207.2 948.9,1204.7" fill="none" stroke="#0a0a0a" stroke-width="3.0" stroke-linejoin="round" stroke-linecap="round"/>
</g>
<text x="96.5" y="429.3" font-size="32" text-anchor="start" font-weight="normal" fill="#000" letter-spacing="0.55">q=(0.1π, 0)</text>
<text x="96.5" y="527.0" font-size="32" text-anchor="start" font-weight="normal" fill="#000" letter-spacing="0.55">q=(0.2π, 0)</text>
<text x="98.6" y="624.0" font-size="32" text-anchor="start" font-weight="normal" fill="#000" letter-spacing="0.55">q=(0.3π, 0)</text>
<text x="99.7" y="717.0" font-size="32" text-anchor="start" font-weight="normal" fill="#000" letter-spacing="0.55">q=(0.4π, 0)</text>
<text x="101.9" y="811.0" font-size="32" text-anchor="start" font-weight="normal" fill="#000" letter-spacing="0.55">q=(0.5π, 0)</text>
<text x="99.7" y="919.5" font-size="32" text-anchor="start" font-weight="normal" fill="#000" letter-spacing="0.55">q=(0.6π, 0)</text>
<text x="101.9" y="1032.0" font-size="32" text-anchor="start" font-weight="normal" fill="#000" letter-spacing="0.55">q=(0.7π, 0)</text>
<text x="104.0" y="1128.6" font-size="32" text-anchor="start" font-weight="normal" fill="#000" letter-spacing="0.55">q=(0.8π, 0)</text>
<text x="99.7" y="1233.5" font-size="32" text-anchor="start" font-weight="normal" fill="#000" letter-spacing="0.55">q=(0.9π, 0)</text>
<line x1="1142.1" y1="1304.0" x2="1142.1" y2="1295.0" stroke="#4a4a4a" stroke-width="2.2"/>
<line x1="1142.1" y1="8.0" x2="1142.1" y2="17.0" stroke="#4a4a4a" stroke-width="2.2"/>
<line x1="1212.0" y1="1304.0" x2="1212.0" y2="1284.5" stroke="#4a4a4a" stroke-width="2.2"/>
<line x1="1212.0" y1="8.0" x2="1212.0" y2="27.5" stroke="#4a4a4a" stroke-width="2.2"/>
<line x1="1281.9" y1="1304.0" x2="1281.9" y2="1295.0" stroke="#4a4a4a" stroke-width="2.2"/>
<line x1="1281.9" y1="8.0" x2="1281.9" y2="17.0" stroke="#4a4a4a" stroke-width="2.2"/>
<line x1="1351.8" y1="1304.0" x2="1351.8" y2="1295.0" stroke="#4a4a4a" stroke-width="2.2"/>
<line x1="1351.8" y1="8.0" x2="1351.8" y2="17.0" stroke="#4a4a4a" stroke-width="2.2"/>
<line x1="1421.7" y1="1304.0" x2="1421.7" y2="1295.0" stroke="#4a4a4a" stroke-width="2.2"/>
<line x1="1421.7" y1="8.0" x2="1421.7" y2="17.0" stroke="#4a4a4a" stroke-width="2.2"/>
<line x1="1491.6" y1="1304.0" x2="1491.6" y2="1295.0" stroke="#4a4a4a" stroke-width="2.2"/>
<line x1="1491.6" y1="8.0" x2="1491.6" y2="17.0" stroke="#4a4a4a" stroke-width="2.2"/>
<line x1="1561.5" y1="1304.0" x2="1561.5" y2="1284.5" stroke="#4a4a4a" stroke-width="2.2"/>
<line x1="1561.5" y1="8.0" x2="1561.5" y2="27.5" stroke="#4a4a4a" stroke-width="2.2"/>
<line x1="1631.4" y1="1304.0" x2="1631.4" y2="1295.0" stroke="#4a4a4a" stroke-width="2.2"/>
<line x1="1631.4" y1="8.0" x2="1631.4" y2="17.0" stroke="#4a4a4a" stroke-width="2.2"/>
<line x1="1701.3" y1="1304.0" x2="1701.3" y2="1295.0" stroke="#4a4a4a" stroke-width="2.2"/>
<line x1="1701.3" y1="8.0" x2="1701.3" y2="17.0" stroke="#4a4a4a" stroke-width="2.2"/>
<line x1="1771.2" y1="1304.0" x2="1771.2" y2="1295.0" stroke="#4a4a4a" stroke-width="2.2"/>
<line x1="1771.2" y1="8.0" x2="1771.2" y2="17.0" stroke="#4a4a4a" stroke-width="2.2"/>
<line x1="1841.1" y1="1304.0" x2="1841.1" y2="1295.0" stroke="#4a4a4a" stroke-width="2.2"/>
<line x1="1841.1" y1="8.0" x2="1841.1" y2="17.0" stroke="#4a4a4a" stroke-width="2.2"/>
<line x1="1911.0" y1="1304.0" x2="1911.0" y2="1284.5" stroke="#4a4a4a" stroke-width="2.2"/>
<line x1="1911.0" y1="8.0" x2="1911.0" y2="27.5" stroke="#4a4a4a" stroke-width="2.2"/>
<line x1="1980.9" y1="1304.0" x2="1980.9" y2="1295.0" stroke="#4a4a4a" stroke-width="2.2"/>
<line x1="1980.9" y1="8.0" x2="1980.9" y2="17.0" stroke="#4a4a4a" stroke-width="2.2"/>
<line x1="1122.8" y1="1283.6" x2="1142.3" y2="1283.6" stroke="#4a4a4a" stroke-width="2.2"/>
<line x1="2000.4" y1="1283.6" x2="1980.9" y2="1283.6" stroke="#4a4a4a" stroke-width="2.2"/>
<text x="1108.0" y="1300.1" font-size="46.5" text-anchor="end" font-weight="normal" fill="#000" >0.0</text>
<line x1="1122.8" y1="1090.6" x2="1142.3" y2="1090.6" stroke="#4a4a4a" stroke-width="2.2"/>
<line x1="2000.4" y1="1090.6" x2="1980.9" y2="1090.6" stroke="#4a4a4a" stroke-width="2.2"/>
<text x="1108.0" y="1107.1" font-size="46.5" text-anchor="end" font-weight="normal" fill="#000" >0.1</text>
<line x1="1122.8" y1="897.5" x2="1142.3" y2="897.5" stroke="#4a4a4a" stroke-width="2.2"/>
<line x1="2000.4" y1="897.5" x2="1980.9" y2="897.5" stroke="#4a4a4a" stroke-width="2.2"/>
<text x="1108.0" y="914.0" font-size="46.5" text-anchor="end" font-weight="normal" fill="#000" >0.2</text>
<line x1="1122.8" y1="704.5" x2="1142.3" y2="704.5" stroke="#4a4a4a" stroke-width="2.2"/>
<line x1="2000.4" y1="704.5" x2="1980.9" y2="704.5" stroke="#4a4a4a" stroke-width="2.2"/>
<text x="1108.0" y="721.0" font-size="46.5" text-anchor="end" font-weight="normal" fill="#000" >0.3</text>
<line x1="1122.8" y1="511.5" x2="1142.3" y2="511.5" stroke="#4a4a4a" stroke-width="2.2"/>
<line x1="2000.4" y1="511.5" x2="1980.9" y2="511.5" stroke="#4a4a4a" stroke-width="2.2"/>
<text x="1108.0" y="528.0" font-size="46.5" text-anchor="end" font-weight="normal" fill="#000" >0.4</text>
<line x1="1122.8" y1="318.4" x2="1142.3" y2="318.4" stroke="#4a4a4a" stroke-width="2.2"/>
<line x1="2000.4" y1="318.4" x2="1980.9" y2="318.4" stroke="#4a4a4a" stroke-width="2.2"/>
<text x="1108.0" y="334.9" font-size="46.5" text-anchor="end" font-weight="normal" fill="#000" >0.5</text>
<line x1="1122.8" y1="125.4" x2="1142.3" y2="125.4" stroke="#4a4a4a" stroke-width="2.2"/>
<line x1="2000.4" y1="125.4" x2="1980.9" y2="125.4" stroke="#4a4a4a" stroke-width="2.2"/>
<text x="1108.0" y="141.9" font-size="46.5" text-anchor="end" font-weight="normal" fill="#000" >0.6</text>
<rect x="1122.8" y="8.0" width="877.6" height="1296.0" fill="none" stroke="#5a5a5a" stroke-width="2.6"/>
<text x="1212.0" y="1353.0" font-size="46.5" text-anchor="middle" font-weight="normal" fill="#000" >0.0</text>
<text x="1561.5" y="1353.0" font-size="46.5" text-anchor="middle" font-weight="normal" fill="#000" >0.5</text>
<text x="1911.0" y="1353.0" font-size="46.5" text-anchor="middle" font-weight="normal" fill="#000" >1.0</text>
<text x="1564.0" y="1408.5" font-size="46.5" text-anchor="middle" font-weight="normal" fill="#000" >q in (q, 0) π</text>
<text transform="translate(1017,632) rotate(-90)" font-size="46.5" text-anchor="middle">Energy (eV)</text>
<text x="1187.0" y="96.5" font-size="58" text-anchor="start" font-weight="bold" fill="#000" >b</text>
<path d="M1356.0,1037.0 C1361.8,1028.2 1379.9,1002.4 1391.0,984.2 C1402.1,966.0 1406.0,951.6 1422.4,927.7 C1438.9,903.8 1469.5,867.9 1489.7,841.0 C1509.9,814.1 1523.6,794.2 1543.5,766.3 C1563.4,738.4 1589.9,699.0 1609.3,673.6 C1628.7,648.2 1644.9,631.7 1660.0,614.0 C1675.1,596.3 1690.0,578.8 1700.0,567.2 C1710.0,555.6 1713.2,552.4 1720.2,544.5 C1727.2,536.6 1732.8,530.0 1742.0,520.0 C1751.2,510.0 1763.6,496.8 1775.7,484.7 C1787.8,472.6 1800.1,461.4 1814.4,447.7 C1828.7,434.0 1844.6,418.1 1861.6,402.3 C1878.6,386.5 1907.2,360.9 1916.3,352.6" fill="none" stroke="#ff4848" stroke-width="3.0" stroke-dasharray="4.5 12.3"/>
<path d="M1300.5,1163.0 C1302.0,1160.0 1305.8,1152.8 1309.6,1144.7 C1313.4,1136.6 1318.8,1124.6 1323.6,1114.6 C1328.4,1104.5 1331.4,1096.6 1338.4,1084.4 C1345.4,1072.2 1358.0,1053.3 1365.7,1041.7 C1373.4,1030.1 1379.0,1024.3 1384.6,1015.0 C1390.2,1005.6 1394.0,996.4 1399.4,985.6 C1404.8,974.8 1410.3,961.6 1417.1,950.0 C1423.9,938.4 1432.5,927.0 1440.0,916.0 C1447.5,905.0 1453.5,895.5 1462.0,884.0 C1470.5,872.5 1480.3,859.5 1491.0,847.0 C1501.7,834.5 1516.8,819.6 1525.9,809.0 C1535.0,798.4 1538.6,791.5 1545.6,783.1 C1552.6,774.7 1559.6,765.6 1568.0,758.5 C1576.4,751.4 1584.0,747.9 1596.0,740.3 C1608.0,732.7 1626.5,719.2 1640.2,713.0 C1653.9,706.8 1665.0,705.8 1678.0,703.0 C1691.0,700.2 1708.7,698.5 1717.9,696.0 C1727.1,693.5 1725.3,690.9 1733.1,688.2 C1740.9,685.5 1754.0,682.5 1764.7,679.6 C1775.5,676.7 1787.1,674.3 1797.6,670.6 C1808.1,666.9 1817.0,659.9 1827.5,657.2 C1838.0,654.5 1849.9,654.0 1860.4,654.2 C1870.9,654.5 1881.6,656.4 1890.3,658.7 C1899.0,661.0 1909.0,666.6 1912.7,668.2" fill="none" stroke="#4848ff" stroke-width="2.8" stroke-dasharray="6 10.5"/>
<polyline points="1281.9,513.4 1351.8,571.3 1421.7,472.9 1491.6,457.4 1561.5,453.6 1631.4,390.6 1701.3,396.6 1771.2,376.2 1841.1,345.9" fill="none" stroke="#ff0d0d" stroke-width="2.6" stroke-linejoin="round"/>
<path d="M1281.9,372.5V654.3M1270.9,372.5h22M1270.9,654.3h22" stroke="#ff0d0d" stroke-width="3.0" fill="none"/>
<path d="M1351.8,487.4V654.3M1340.8,487.4h22M1340.8,654.3h22" stroke="#ff0d0d" stroke-width="3.0" fill="none"/>
<path d="M1421.7,451.6V494.1M1410.7,451.6h22M1410.7,494.1h22" stroke="#ff0d0d" stroke-width="3.0" fill="none"/>
<path d="M1491.6,416.9V496.0M1480.6,416.9h22M1480.6,496.0h22" stroke="#ff0d0d" stroke-width="3.0" fill="none"/>
<path d="M1561.5,382.1V525.0M1550.5,382.1h22M1550.5,525.0h22" stroke="#ff0d0d" stroke-width="3.0" fill="none"/>
<path d="M1631.4,315.4V467.9M1620.4,315.4h22M1620.4,467.9h22" stroke="#ff0d0d" stroke-width="3.0" fill="none"/>
<path d="M1841.1,330.8V361.7M1830.1,330.8h22M1830.1,361.7h22" stroke="#ff0d0d" stroke-width="3.0" fill="none"/>
<rect x="1273.2" y="504.7" width="17.5" height="17.5" fill="#fff" stroke="#ff0d0d" stroke-width="3.4"/>
<rect x="1343.0" y="562.6" width="17.5" height="17.5" fill="#fff" stroke="#ff0d0d" stroke-width="3.4"/>
<rect x="1413.0" y="464.1" width="17.5" height="17.5" fill="#fff" stroke="#ff0d0d" stroke-width="3.4"/>
<rect x="1482.8" y="448.7" width="17.5" height="17.5" fill="#fff" stroke="#ff0d0d" stroke-width="3.4"/>
<rect x="1552.8" y="444.8" width="17.5" height="17.5" fill="#fff" stroke="#ff0d0d" stroke-width="3.4"/>
<rect x="1622.7" y="381.9" width="17.5" height="17.5" fill="#fff" stroke="#ff0d0d" stroke-width="3.4"/>
<rect x="1692.5" y="387.9" width="17.5" height="17.5" fill="#fff" stroke="#ff0d0d" stroke-width="3.4"/>
<rect x="1762.5" y="367.4" width="17.5" height="17.5" fill="#fff" stroke="#ff0d0d" stroke-width="3.4"/>
<rect x="1832.3" y="337.1" width="17.5" height="17.5" fill="#fff" stroke="#ff0d0d" stroke-width="3.4"/>
<polyline points="1281.9,1071.8 1351.8,1056.8 1421.7,926.7 1491.6,848.5 1561.5,782.7 1631.4,726.7 1701.3,711.8 1771.2,712.4 1841.1,703.0" fill="none" stroke="#0a0aff" stroke-width="2.6" stroke-linejoin="round"/>
<path d="M1281.9,943.7V1201.2M1270.9,943.7h22M1270.9,1201.2h22" stroke="#0a0aff" stroke-width="3.0" fill="none"/>
<path d="M1351.8,1019.3V1094.0M1340.8,1019.3h22M1340.8,1094.0h22" stroke="#0a0aff" stroke-width="3.0" fill="none"/>
<path d="M1701.3,697.8V726.7M1692.8,697.8h17M1692.8,726.7h17" stroke="#0a0aff" stroke-width="3.0" fill="none"/>
<path d="M1841.1,667.1V738.5M1830.1,667.1h22M1830.1,738.5h22" stroke="#0a0aff" stroke-width="3.0" fill="none"/>
<rect x="1273.2" y="1063.1" width="17.5" height="17.5" fill="#fff" stroke="#0a0aff" stroke-width="3.4"/>
<rect x="1343.0" y="1048.0" width="17.5" height="17.5" fill="#fff" stroke="#0a0aff" stroke-width="3.4"/>
<rect x="1413.0" y="917.9" width="17.5" height="17.5" fill="#fff" stroke="#0a0aff" stroke-width="3.4"/>
<rect x="1482.8" y="839.8" width="17.5" height="17.5" fill="#fff" stroke="#0a0aff" stroke-width="3.4"/>
<rect x="1552.8" y="773.9" width="17.5" height="17.5" fill="#fff" stroke="#0a0aff" stroke-width="3.4"/>
<rect x="1622.7" y="718.0" width="17.5" height="17.5" fill="#fff" stroke="#0a0aff" stroke-width="3.4"/>
<rect x="1692.5" y="703.1" width="17.5" height="17.5" fill="#fff" stroke="#0a0aff" stroke-width="3.4"/>
<rect x="1762.5" y="703.7" width="17.5" height="17.5" fill="#fff" stroke="#0a0aff" stroke-width="3.4"/>
<rect x="1832.3" y="694.2" width="17.5" height="17.5" fill="#fff" stroke="#0a0aff" stroke-width="3.4"/>
<rect x="1202.0" y="487.6" width="20.5" height="20.5" fill="#ff0000" stroke="#000" stroke-width="3"/>
<rect x="1551.5" y="411.8" width="20.5" height="20.5" fill="#ff0000" stroke="#000" stroke-width="3"/>
<rect x="1667.7" y="346.4" width="20.5" height="20.5" fill="#ff0000" stroke="#000" stroke-width="3"/>
<rect x="1900.7" y="395.8" width="20.5" height="20.5" fill="#ff0000" stroke="#000" stroke-width="3"/>
<rect x="1551.5" y="773.0" width="20.5" height="20.5" fill="#0000ff" stroke="#000" stroke-width="3"/>
<rect x="1667.8" y="690.5" width="20.5" height="20.5" fill="#0000ff" stroke="#000" stroke-width="3"/>
<rect x="1900.3" y="742.5" width="20.5" height="20.5" fill="#0000ff" stroke="#000" stroke-width="3"/>
<polygon points="1345.2,496.5 1357.8,503.8 1357.8,518.2 1345.2,525.5 1332.6,518.2 1332.6,503.8" fill="#f5a300" stroke="#000" stroke-width="2.6"/>
<text x="1243.0" y="74.5" font-size="42" text-anchor="start" font-weight="normal" fill="#000" >bimagnon:</text>
<line x1="1475" y1="61.4" x2="1539" y2="61.4" stroke="#ff0d0d" stroke-width="2.6"/>
<rect x="1498.8" y="52.6" width="17.5" height="17.5" fill="#fff" stroke="#ff0d0d" stroke-width="3.4"/>
<text x="1545.0" y="74.5" font-size="42" text-anchor="start" font-weight="normal" fill="#000" >RIXS</text>
<rect x="1498.8" y="95.2" width="17.5" height="17.5" fill="#ff0000" stroke="#000" stroke-width="2.6"/>
<text x="1555.5" y="115.5" font-size="42" text-anchor="start" font-weight="normal" fill="#000" >bimagnon ED</text>
<line x1="1475" y1="145.7" x2="1537" y2="145.7" stroke="#ff6a6a" stroke-width="3.6" stroke-dasharray="8.5 8.5"/>
<text x="1555.5" y="156.0" font-size="42" text-anchor="start" font-weight="normal" fill="#000" >Forte et al.</text>
<polygon points="1508.0,177.0 1517.1,182.2 1517.1,192.8 1508.0,198.0 1498.9,192.8 1498.9,182.2" fill="#f5a300" stroke="#000" stroke-width="2.6"/>
<text x="1555.5" y="200.5" font-size="42" text-anchor="start" font-weight="normal" fill="#000" >O K-edge Guarise et al.</text>
<text x="1483.0" y="1166.0" font-size="42" text-anchor="start" font-weight="normal" fill="#000" >magnon:</text>
<line x1="1663" y1="1152.6" x2="1730" y2="1152.6" stroke="#0a0aff" stroke-width="2.6"/>
<rect x="1687.8" y="1144.2" width="17.5" height="17.5" fill="#fff" stroke="#0a0aff" stroke-width="3.4"/>
<text x="1744.0" y="1166.0" font-size="42" text-anchor="start" font-weight="normal" fill="#000" >RIXS</text>
<rect x="1687.2" y="1187.5" width="17.5" height="17.5" fill="#0000ff" stroke="#000" stroke-width="2.6"/>
<text x="1744.0" y="1206.5" font-size="42" text-anchor="start" font-weight="normal" fill="#000" >magnon ED</text>
<line x1="1663" y1="1237" x2="1725" y2="1237" stroke="#6a6aff" stroke-width="3.6" stroke-dasharray="8.5 8.5"/>
<text x="1744.0" y="1246.5" font-size="42" text-anchor="start" font-weight="normal" fill="#000" >Betto et al.</text>
</svg>
</body></html>
